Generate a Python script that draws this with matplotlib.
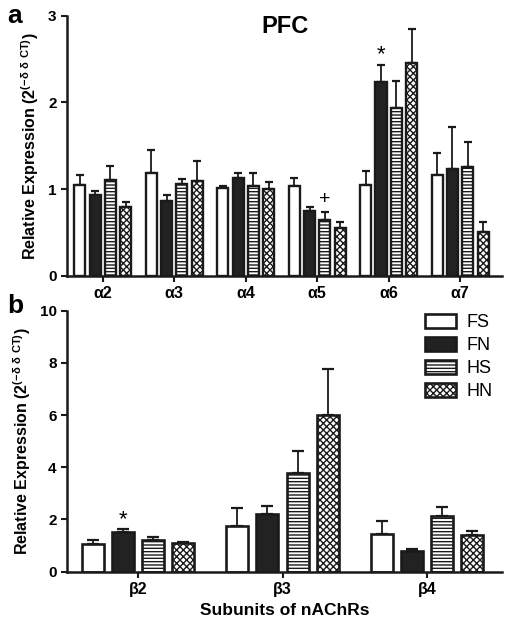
import numpy as np
import matplotlib
matplotlib.use("Agg")
import matplotlib.pyplot as plt

plt.rcParams['font.family'] = ['Liberation Sans', 'DejaVu Sans']
plt.rcParams['hatch.linewidth'] = 1.0
plt.rcParams['mathtext.fontset'] = 'custom'
plt.rcParams['mathtext.rm'] = 'Liberation Sans'

groups = ["FS", "FN", "HS", "HN"]

# panel a: alpha subunits
alpha_labels = ["α2", "α3", "α4", "α5", "α6", "α7"]
alpha_mean = {
    "FS": [1.05, 1.18, 1.01, 1.03, 1.05, 1.16],
    "FN": [0.93, 0.86, 1.13, 0.75, 2.23, 1.23],
    "HS": [1.10, 1.06, 1.04, 0.64, 1.93, 1.26],
    "HN": [0.79, 1.09, 1.00, 0.55, 2.45, 0.50],
}
alpha_err = {
    "FS": [0.11, 0.27, 0.03, 0.10, 0.16, 0.26],
    "FN": [0.05, 0.07, 0.05, 0.04, 0.20, 0.49],
    "HS": [0.17, 0.06, 0.15, 0.09, 0.32, 0.28],
    "HN": [0.06, 0.23, 0.08, 0.07, 0.40, 0.12],
}

# panel b: beta subunits
beta_labels = ["β2", "β3", "β4"]
beta_mean = {
    "FS": [1.05, 1.75, 1.45],
    "FN": [1.53, 2.20, 0.77],
    "HS": [1.22, 3.78, 2.13],
    "HN": [1.10, 6.00, 1.40],
}
beta_err = {
    "FS": [0.15, 0.68, 0.48],
    "FN": [0.10, 0.33, 0.08],
    "HS": [0.12, 0.83, 0.36],
    "HN": [0.05, 1.75, 0.17],
}

styles = {
    "FS": dict(color="white", hatch=None),
    "FN": dict(color="#222222", hatch=None),
    "HS": dict(color="white", hatch="-----"),
    "HN": dict(color="white", hatch="xxxxx"),
}

ylab = r"Relative Expression (2$^{\mathregular{(-δ\ δ\ CT)}}$)"


def draw_panel(ax, labels, means, errs, pitch, width, capsize, ylim, yticks, xlim, lw):
    x = np.arange(len(labels))
    for i, g in enumerate(groups):
        pos = x + (i - 1.5) * pitch
        ax.errorbar(pos, means[g], yerr=[np.zeros(len(labels)), errs[g]],
                    fmt="none", ecolor="#1a1a1a", elinewidth=1.3,
                    capsize=capsize, capthick=1.6, zorder=1)
        ax.bar(pos, means[g], width=width, color=styles[g]["color"],
               hatch=styles[g]["hatch"], edgecolor="#1a1a1a",
               linewidth=lw, label=g, zorder=2)
    ax.set_xticks(x)
    ax.set_xticklabels(labels, fontsize=11.5, fontweight="bold")
    ax.set_xlim(*xlim)
    ax.set_ylim(*ylim)
    ax.set_yticks(yticks)
    ax.set_yticklabels([str(t) for t in yticks], fontsize=11, fontweight="bold")
    ax.spines["top"].set_visible(False)
    ax.spines["right"].set_visible(False)
    ax.spines["left"].set_linewidth(1.8)
    ax.spines["bottom"].set_linewidth(1.8)
    ax.spines["left"].set_color("#1a1a1a")
    ax.spines["bottom"].set_color("#1a1a1a")
    ax.tick_params(axis="both", width=1.5, length=4, color="#1a1a1a")
    ax.set_ylabel(ylab, fontsize=11.5, fontweight="bold", labelpad=5)


fig = plt.figure(figsize=(5.12, 6.24), dpi=100)

ax1 = fig.add_axes([0.131, 0.558, 0.850, 0.417])
draw_panel(ax1, alpha_labels, alpha_mean, alpha_err, pitch=0.214, width=0.155,
           capsize=2.6, ylim=(0, 3), yticks=[0, 1, 2, 3], xlim=(-0.5, 5.59), lw=1.7)
ax1.text(2.55, 2.88, "PFC", fontsize=17, fontweight="bold", ha="center", va="center")
ax1.text(4 - 0.5 * 0.214, 2.55, "*", fontsize=16, ha="center", va="center")
ax1.text(3 + 0.5 * 0.214, 0.88, "+", fontsize=14, ha="center", va="center")

ax2 = fig.add_axes([0.131, 0.084, 0.850, 0.418])
draw_panel(ax2, beta_labels, beta_mean, beta_err, pitch=0.208, width=0.152,
           capsize=4.0, ylim=(0, 10), yticks=[0, 2, 4, 6, 8, 10], xlim=(-0.49, 2.52), lw=1.9)
ax2.text(0 - 0.5 * 0.208, 1.98, "*", fontsize=16, ha="center", va="center")
ax2.set_xlabel("Subunits of nAChRs", fontsize=12.5, fontweight="bold", labelpad=4)
leg = ax2.legend(loc="upper right", bbox_to_anchor=(1.015, 1.05), frameon=False,
                 fontsize=13, handlelength=1.7, handleheight=0.85,
                 labelspacing=0.3, handletextpad=0.6)

fig.text(0.015, 0.975, "a", fontsize=19, fontweight="bold", ha="left", va="center")
fig.text(0.015, 0.51, "b", fontsize=19, fontweight="bold", ha="left", va="center")

fig.savefig("out.png", dpi=100)
